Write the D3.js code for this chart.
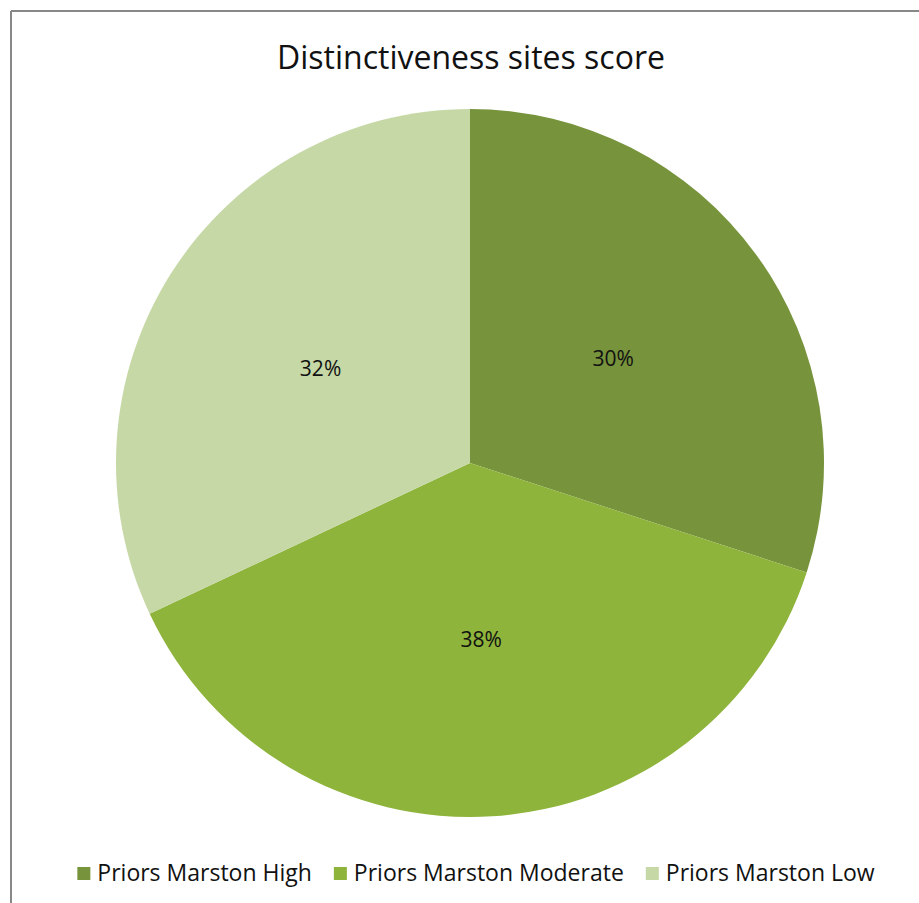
<!DOCTYPE html>
<html>
<head>
<meta charset="utf-8">
<script src="https://cdn.jsdelivr.net/npm/d3@7"></script>
<style>
  body { margin: 0; background: #fff; }
  text { font-family: "Open Sans", "Noto Sans", sans-serif; fill: #111; }
</style>
</head>
<body>
<div id="chart"></div>
<script>
// data
var categories = ["Priors Marston High", "Priors Marston Moderate", "Priors Marston Low"];
var shares = [30, 38, 32];
var colours = ["#77933c", "#8eb43b", "#c6d8a6"];
var title = "Distinctiveness sites score";

var width = 919, height = 903;
var cx = 470, cy = 463, r = 354;

var svg = d3.select("#chart").append("svg")
    .attr("width", width).attr("height", height);

// frame (only top and left edges are visible in the picture)
svg.append("line").attr("x1", 11).attr("y1", 11).attr("x2", width).attr("y2", 11)
    .attr("stroke", "#888").attr("stroke-width", 2);
svg.append("line").attr("x1", 11).attr("y1", 11).attr("x2", 11).attr("y2", height)
    .attr("stroke", "#888").attr("stroke-width", 2);

svg.append("text")
    .attr("x", 471).attr("y", 69)
    .attr("text-anchor", "middle")
    .style("font-size", "32px")
    .text(title);

var data = categories.map(function(c, i) { return {name: c, value: shares[i], colour: colours[i]}; });

var pie = d3.pie().value(function(d) { return d.value; }).sort(null);
var arc = d3.arc().innerRadius(0).outerRadius(r);

var g = svg.append("g").attr("transform", "translate(" + cx + "," + cy + ")");

var slices = g.selectAll("g.slice")
    .data(pie(data))
    .enter().append("g").attr("class", "slice");

slices.append("path")
    .attr("d", arc)
    .attr("fill", function(d) { return d.data.colour; });

slices.append("text")
    .attr("transform", function(d) { return "translate(" + arc.centroid(d) + ")"; })
    .attr("text-anchor", "middle")
    .attr("dy", "0.35em")
    .style("font-size", "21px")
    .text(function(d) { return d.data.value + "%"; });

// legend, laid out from measured text widths and centred
var legend = svg.append("g");
var x = 0;
categories.forEach(function(c, i) {
  var item = legend.append("g").attr("transform", "translate(" + x + ",0)");
  item.append("rect").attr("x", 0).attr("y", -14).attr("width", 13).attr("height", 13)
      .attr("fill", colours[i]);
  var t = item.append("text").attr("x", 20).attr("y", 0)
      .style("font-size", "23px").text(c);
  x += 20 + t.node().getComputedTextLength() + 22;
});
var legendWidth = x - 22;
legend.attr("transform", "translate(" + (476 - legendWidth / 2) + ",881)");
</script>
</body>
</html>
